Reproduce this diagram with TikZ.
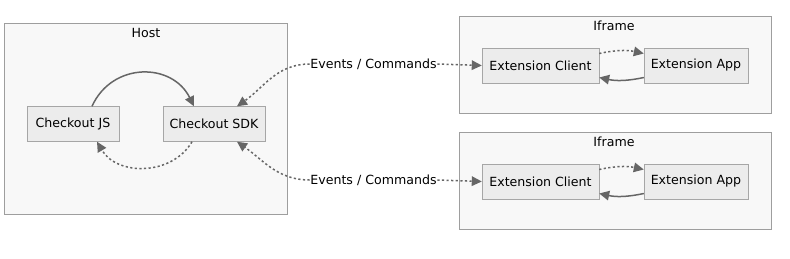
\documentclass[tikz,border=0pt]{standalone}
\usepackage{fontspec}
\setmainfont{DejaVu Sans}
\usetikzlibrary{positioning,arrows.meta}
\definecolor{uNode}{HTML}{ECECEC}
\definecolor{uNodeLine}{HTML}{A6A6A6}
\definecolor{uGroup}{HTML}{F8F8F8}
\definecolor{uGroupLine}{HTML}{9E9E9E}
\definecolor{uEdge}{HTML}{666666}
\tikzset{
  blk/.style={draw=uNodeLine, fill=uNode, align=center,
              font=\fontsize{12.6}{15}\selectfont, minimum height=35pt,
              inner sep=2pt},
  group/.style={draw=uGroupLine, fill=uGroup, inner sep=0pt},
  grouptitle/.style={font=\fontsize{12.6}{15}\selectfont, inner sep=1pt},
  flow/.style={-{Triangle[length=10pt,width=9.5pt]}, uEdge, line width=1.5pt},
  dots/.style={flow, dash pattern=on 2.2pt off 2.4pt},
  % labels that sit ON an arrow: opaque, so the line never strikes the text
  onarrow/.style={font=\fontsize{12.6}{15}\selectfont, fill=white, inner sep=0.5pt},
}

\begin{document}
\begin{tikzpicture}[x=1pt, y=-1pt]
\useasboundingbox (0,0) rectangle (790,258);

%% ── the host page ───────────────────────────────────────────────────────
\node[group, minimum width=283pt, minimum height=191pt] (host) at (145.5,118.5) {};
\node[grouptitle] (hostT) at (146,33) {Host};
\node[blk, minimum width=92pt] (js) at (73,124) {Checkout JS};
\node[blk, minimum width=102pt] (sdk) at (214,124) {Checkout SDK};

\draw[flow] ([xshift=19pt]js.north) .. controls (112,62) and (172,62) ..
  ([xshift=-20pt]sdk.north);
\draw[dots] ([xshift=-22pt]sdk.south) .. controls (172,176) and (117,176) ..
  ([xshift=24pt]js.south);

%% ── the two iframes ─────────────────────────────────────────────────────
\foreach \i/\y in {1/65.5, 2/181.5} {
  \node[group, minimum width=312pt, minimum height=97pt] (frame\i) at (615,\y-0.5) {};
  \node[grouptitle] (frameT\i) at (614,\y-39.5) {Iframe};
  \node[blk, minimum width=117pt] (client\i) at (540.5,\y) {Extension Client};
  \node[blk, minimum width=104pt] (app\i) at (696,\y) {Extension App};
  \draw[dots] ([yshift=12pt]client\i.east) to[bend left=12] ([yshift=12pt]app\i.west);
  \draw[flow] ([yshift=-12pt]app\i.west) to[bend left=12] ([yshift=-12pt]client\i.east);
}

%% ── messages between the SDK and each client ───────────────────────────
\node[onarrow] (ev1) at (373.5,64) {Events / Commands};
\node[onarrow] (ev2) at (373.5,180) {Events / Commands};

\draw[dots] (ev1.west) to[out=180, in=35] ([xshift=23pt]sdk.north);
\draw[dots] (ev1.east) -- (client1.west);
\draw[dots] (ev2.west) to[out=180, in=-35] ([xshift=23pt]sdk.south);
\draw[dots] (ev2.east) -- (client2.west);

\end{tikzpicture}
\end{document}
